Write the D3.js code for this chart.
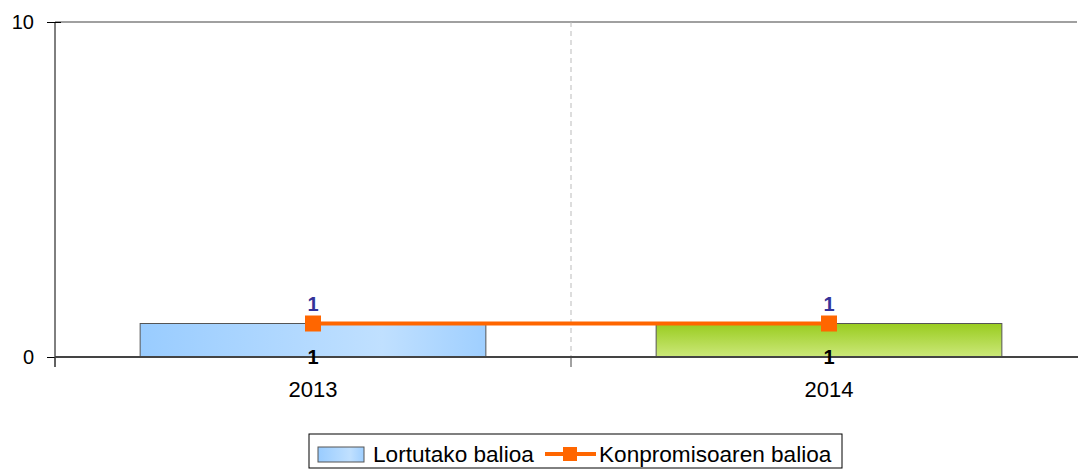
<!DOCTYPE html>
<html>
<head>
<meta charset="utf-8">
<script src="https://cdn.jsdelivr.net/npm/d3@7"></script>
<style>
  body { margin: 0; background: #fff; }
  text { font-family: "Liberation Sans", Arial, sans-serif; }
</style>
</head>
<body>
<svg id="chart"></svg>
<script>
const years = ['2013', '2014'];
const achieved = [1, 1];
const commitment = [1, 1];
const yTicks = [0, 10];
const seriesNames = ['Lortutako balioa', 'Konpromisoaren balioa'];

const width = 1078, height = 470;
const margin = { top: 22, left: 55 };
const innerW = 1032;
const innerH = 335;

const svg = d3.select('#chart').attr('width', width).attr('height', height);
const defs = svg.append('defs');

const blue = defs.append('linearGradient').attr('id', 'gBlue')
  .attr('x1', '0%').attr('x2', '100%').attr('y1', '0%').attr('y2', '0%');
blue.append('stop').attr('offset', '0%').attr('stop-color', '#99ccff');
blue.append('stop').attr('offset', '70%').attr('stop-color', '#c0e0ff');
blue.append('stop').attr('offset', '100%').attr('stop-color', '#9fcfff');

const green = defs.append('linearGradient').attr('id', 'gGreen')
  .attr('x1', '0%').attr('x2', '0%').attr('y1', '0%').attr('y2', '100%');
green.append('stop').attr('offset', '0%').attr('stop-color', '#99cc1f');
green.append('stop').attr('offset', '100%').attr('stop-color', '#cce87a');

const g = svg.append('g').attr('transform', `translate(${margin.left},${margin.top})`);

const x = d3.scaleBand().domain(years).range([0, innerW]);
const y = d3.scaleLinear().domain([0, 10]).range([innerH, 0]);

// top gridline
g.append('line')
  .attr('x1', 0).attr('x2', width - margin.left - 1)
  .attr('y1', y(10)).attr('y2', y(10))
  .attr('stroke', '#a0a0a0').attr('stroke-width', 2);

// dashed separator between categories
g.append('line')
  .attr('x1', x('2014')).attr('x2', x('2014'))
  .attr('y1', y(10)).attr('y2', y(0))
  .attr('stroke', '#bbbbbb').attr('stroke-dasharray', '5,4');

// bars
const barW = x.bandwidth() * 0.67;
g.selectAll('.bar')
  .data(years)
  .join('rect')
  .attr('class', 'bar')
  .attr('x', d => x(d) + (x.bandwidth() - barW) / 2)
  .attr('y', (d, i) => y(achieved[i]))
  .attr('width', barW)
  .attr('height', (d, i) => y(0) - y(achieved[i]))
  .attr('fill', (d, i) => i === 0 ? 'url(#gBlue)' : 'url(#gGreen)')
  .attr('stroke', '#555').attr('stroke-width', 1);

// y axis
const yAxis = g.append('g')
  .call(d3.axisLeft(y).tickValues(yTicks).tickSize(8).tickPadding(13).tickFormat(d3.format('d')));
yAxis.select('.domain').attr('stroke', '#000').attr('d', `M0,0V${innerH + 10}`);
yAxis.selectAll('.tick line').attr('stroke', '#000').attr('x2', -8).attr('x1', 6);
yAxis.selectAll('text').attr('font-size', 20).attr('fill', '#000');

// x axis
const xAxis = g.append('g').attr('transform', `translate(0,${innerH})`)
  .call(d3.axisBottom(x).tickSize(0).tickPadding(24));
xAxis.select('.domain').attr('stroke', '#444').attr('stroke-width', 2).attr('d', `M0,0H${width - margin.left}`);
xAxis.selectAll('text').attr('font-size', 22).attr('fill', '#000');
g.selectAll('.xtick')
  .data(years.concat(['end']))
  .join('line')
  .attr('class', 'xtick')
  .attr('x1', (d, i) => i * x.bandwidth()).attr('x2', (d, i) => i * x.bandwidth())
  .attr('y1', innerH).attr('y2', innerH + 10)
  .attr('stroke', '#444');

// commitment line
const cx = d => x(d) + x.bandwidth() / 2;
const line = d3.line().x((d, i) => cx(years[i])).y(d => y(d));
g.append('path')
  .datum(commitment)
  .attr('d', line)
  .attr('fill', 'none').attr('stroke', '#ff6600').attr('stroke-width', 4);
g.selectAll('.marker')
  .data(commitment)
  .join('rect')
  .attr('class', 'marker')
  .attr('x', (d, i) => cx(years[i]) - 8)
  .attr('y', d => y(d) - 8)
  .attr('width', 16).attr('height', 16)
  .attr('fill', '#ff6600');

// labels
g.selectAll('.clabel')
  .data(commitment)
  .join('text')
  .attr('class', 'clabel')
  .attr('x', (d, i) => cx(years[i]))
  .attr('y', d => y(d) - 13)
  .attr('text-anchor', 'middle')
  .attr('font-size', 20).attr('font-weight', 'bold').attr('fill', '#333399')
  .text(d => d);
g.selectAll('.alabel')
  .data(achieved)
  .join('text')
  .attr('class', 'alabel')
  .attr('x', (d, i) => cx(years[i]))
  .attr('y', innerH + 7)
  .attr('text-anchor', 'middle')
  .attr('font-size', 20).attr('font-weight', 'bold').attr('fill', '#000')
  .text(d => d);

// legend
const lg = svg.append('g').attr('transform', 'translate(309,434)');
lg.append('rect').attr('width', 533).attr('height', 34)
  .attr('fill', '#fff').attr('stroke', '#000').attr('stroke-width', 1);
lg.append('rect').attr('x', 9).attr('y', 13).attr('width', 46).attr('height', 15)
  .attr('fill', 'url(#gBlue)').attr('stroke', '#555');
lg.append('text').attr('x', 64).attr('y', 28).attr('font-size', 22.6).text(seriesNames[0]);
lg.append('line').attr('x1', 236).attr('x2', 287).attr('y1', 20).attr('y2', 20)
  .attr('stroke', '#ff6600').attr('stroke-width', 4);
lg.append('rect').attr('x', 254).attr('y', 13).attr('width', 14).attr('height', 14)
  .attr('fill', '#ff6600');
lg.append('text').attr('x', 290).attr('y', 28).attr('font-size', 22.6).text(seriesNames[1]);
</script>
</body>
</html>
